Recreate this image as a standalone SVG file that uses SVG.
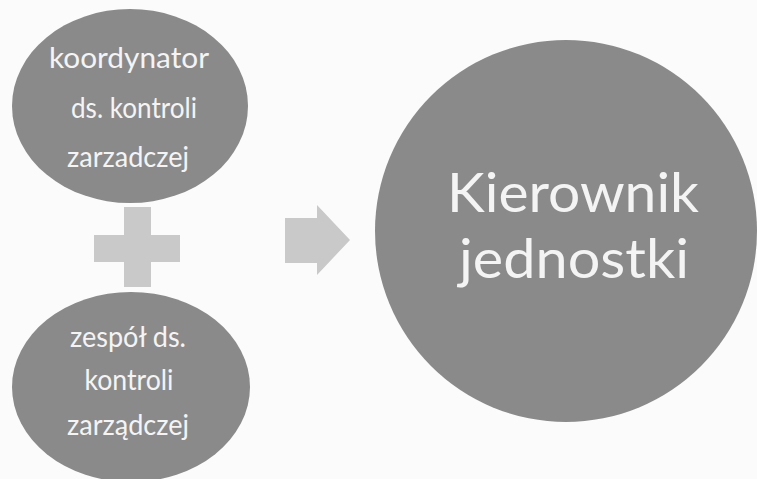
<svg xmlns="http://www.w3.org/2000/svg" width="757" height="479" viewBox="0 0 757 479">
<style>
.node{fill:#8a8a8a}
.sym{fill:#c9c9c9}
.t{font-family:Lato,"Open Sans","Liberation Sans",sans-serif;fill:#f4f4f4;text-anchor:middle}
.s{font-size:28px}
.b{font-size:54px}
</style>
<rect width="757" height="479" fill="#fbfbfb"/>
<g id="node-koordynator">
<ellipse class="node" cx="130" cy="106" rx="118" ry="97"/>
<text class="t s" x="129" y="68" textLength="160" lengthAdjust="spacingAndGlyphs">koordynator</text>
<text class="t s" x="134" y="118" textLength="126" lengthAdjust="spacingAndGlyphs">ds. kontroli</text>
<text class="t s" x="128" y="167" textLength="122" lengthAdjust="spacingAndGlyphs">zarzadczej</text>
</g>
<g id="node-zespol">
<ellipse class="node" cx="131" cy="387" rx="119" ry="95"/>
<text class="t s" x="128" y="347" textLength="116" lengthAdjust="spacingAndGlyphs">zespół ds.</text>
<text class="t s" x="129" y="390" textLength="89" lengthAdjust="spacingAndGlyphs">kontroli</text>
<text class="t s" x="128" y="435" textLength="122" lengthAdjust="spacingAndGlyphs">zarządczej</text>
</g>
<g id="node-kierownik">
<circle class="node" cx="566" cy="231" r="191"/>
<text class="t b" x="573" y="212" textLength="252" lengthAdjust="spacingAndGlyphs">Kierownik</text>
<text class="t b" x="574" y="278" textLength="230" lengthAdjust="spacingAndGlyphs">jednostki</text>
</g>
<g id="connectors">
<path class="sym" d="M124 207H151V235H180V262H151V287H124V262H94V235H124Z"/>
<path class="sym" d="M285 218H317V205L350 240L317 275V263H285Z"/>
</g>
</svg>
